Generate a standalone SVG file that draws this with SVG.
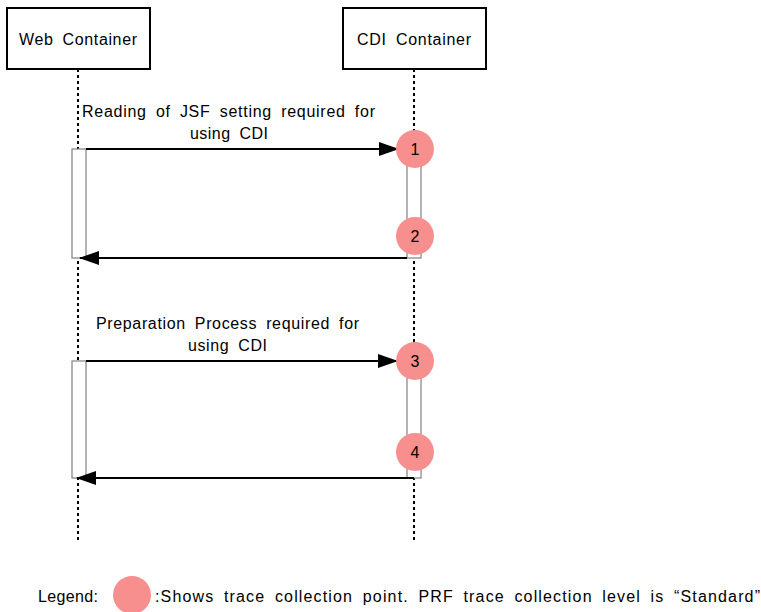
<svg xmlns="http://www.w3.org/2000/svg" width="761" height="612" viewBox="0 0 761 612">
<defs>
<style>
text{font-family:"Liberation Sans","Noto Sans CJK JP",sans-serif;font-size:16px;fill:#000;word-spacing:4px}
.box{fill:#fff;stroke:#000;stroke-width:2}
.life{stroke:#000;stroke-width:2;stroke-dasharray:3,3;fill:none}
.act{fill:#fff;stroke:#808080;stroke-width:1.2}
.msg{stroke:#000;stroke-width:2;fill:none}
.pt{fill:#f78f8f}
</style>
<marker id="ah" markerWidth="20" markerHeight="14" refX="19" refY="7" orient="auto" markerUnits="userSpaceOnUse">
<path d="M0,0 L20,7 L0,14 Z" fill="#000"/>
</marker>
</defs>
<rect width="761" height="612" fill="#fff"/>
<g id="lifelines">
<line class="life" x1="78" y1="69" x2="78" y2="540"/>
<line class="life" x1="414" y1="69" x2="414" y2="540"/>
</g>
<g id="web-container">
<rect class="box" x="7" y="8" width="143" height="61"/>
<text x="19" y="45" textLength="118" lengthAdjust="spacing">Web Container</text>
</g>
<g id="cdi-container">
<rect class="box" x="343" y="8" width="143" height="61"/>
<text x="357" y="45" textLength="114" lengthAdjust="spacing">CDI Container</text>
</g>
<g id="activations">
<rect class="act" x="72" y="149" width="14" height="109"/>
<rect class="act" x="407" y="149" width="14" height="109"/>
<rect class="act" x="72" y="361" width="14" height="117"/>
<rect class="act" x="407" y="361" width="14" height="117"/>
</g>
<g id="connectors">
<line class="msg" x1="86" y1="149" x2="398" y2="149" marker-end="url(#ah)"/>
<line class="msg" x1="407" y1="258" x2="80" y2="258" marker-end="url(#ah)"/>
<line class="msg" x1="86" y1="361" x2="397" y2="361" marker-end="url(#ah)"/>
<line class="msg" x1="414" y1="478" x2="77" y2="478" marker-end="url(#ah)"/>
</g>
<g id="labels">
<text x="82" y="117" textLength="293" lengthAdjust="spacing">Reading of JSF setting required for</text>
<text x="190" y="139" textLength="78" lengthAdjust="spacing">using CDI</text>
<text x="96" y="329" textLength="263" lengthAdjust="spacing">Preparation Process required for</text>
<text x="188" y="351" textLength="79" lengthAdjust="spacing">using CDI</text>
</g>
<g id="point-1"><circle class="pt" cx="415" cy="149" r="19"/><text x="415" y="155" text-anchor="middle">1</text></g>
<g id="point-2"><circle class="pt" cx="415" cy="236" r="19"/><text x="415" y="242" text-anchor="middle">2</text></g>
<g id="point-3"><circle class="pt" cx="415" cy="361" r="19"/><text x="415" y="367" text-anchor="middle">3</text></g>
<g id="point-4"><circle class="pt" cx="415" cy="452" r="19"/><text x="415" y="458" text-anchor="middle">4</text></g>
<g id="legend">
<text x="38" y="602" textLength="60" lengthAdjust="spacing">Legend:</text>
<ellipse class="pt" cx="132" cy="595" rx="19" ry="19"/>
<text x="155" y="602" textLength="605" lengthAdjust="spacing">:Shows trace collection point. PRF trace collection level is “Standard”</text>
</g>
</svg>
